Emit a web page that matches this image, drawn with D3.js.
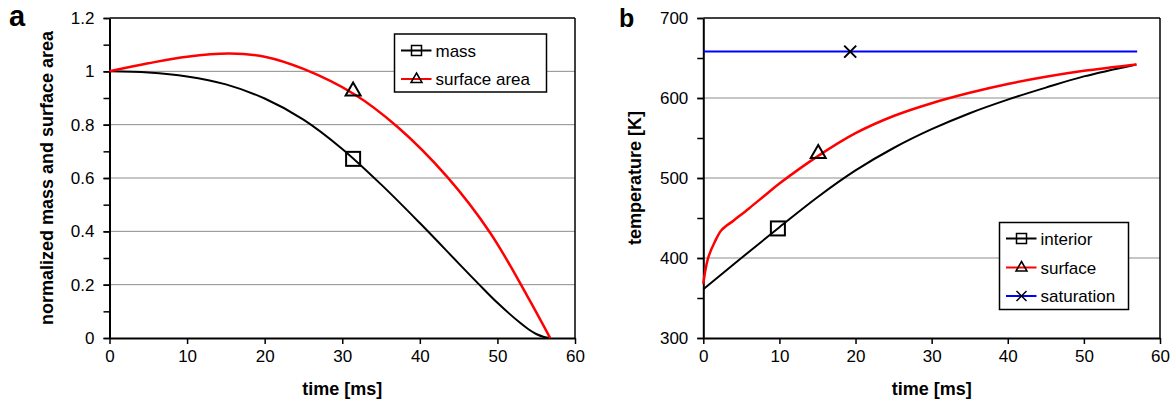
<!DOCTYPE html>
<html><head><meta charset="utf-8">
<script src="https://cdn.jsdelivr.net/npm/d3@7/dist/d3.min.js"></script>
<style>
html,body{margin:0;padding:0;background:#fff;}
svg{display:block;font-family:"Liberation Sans",Arial,sans-serif;}
</style></head>
<body><svg id="c" width="1176" height="403"></svg>
<script>
// ---- Panel a data ----
const massTime = [0, 5, 10, 15, 20, 25, 30, 35, 40, 45, 47.5, 50, 53, 54, 55, 56, 56.8];
const massValue = [1.0, 0.996, 0.981, 0.951, 0.898, 0.819, 0.709, 0.576, 0.431, 0.280, 0.205, 0.132, 0.055, 0.033, 0.015, 0.004, 0.0];
const areaTime = [0, 5, 10, 15.5, 20, 25, 31.5, 37.1, 43.5, 49.1, 53.8, 56.8];
const areaValue = [1.0, 1.03, 1.055, 1.067, 1.055, 1.009, 0.915, 0.792, 0.605, 0.393, 0.16, 0.0];
const markerTimeA = 31.4;
const yTicksA = [0, 0.2, 0.4, 0.6, 0.8, 1, 1.2];
const yTickLabelsA = ["0", "0.2", "0.4", "0.6", "0.8", "1", "1.2"];
const xTicks = [0, 10, 20, 30, 40, 50, 60];
// ---- Panel b data ----
const interiorTime = [0, 5, 10, 15, 20, 25, 30, 35, 40, 45, 50, 56.9];
const interiorTemp = [361, 400, 438.5, 476, 509.5, 537.5, 561, 581, 598, 613, 627, 642];
const surfaceTime = [0, 0.3, 0.7, 1.5, 2.4, 4, 6, 8, 10, 15, 20, 25, 30, 35, 40, 45, 50, 56.9];
const surfaceTemp = [368, 386, 402, 420, 435, 447, 462, 477.5, 493, 527, 556, 577.5, 593.5, 606.5, 617.5, 626.5, 634, 642];
const saturationTime = [0, 57];
const saturationTemp = [658, 658];
const markerTimeInterior = 9.8;
const markerTimeSurface = 15.1;
const markerTimeSaturation = 19.3;
const yTicksB = [300, 400, 500, 600, 700];

const svg = d3.select("#c");
const FS = 17, TFS = 18;

function interp(ts, vs, t) {
  for (let i = 0; i < ts.length - 1; i++) {
    if (t >= ts[i] && t <= ts[i+1]) {
      const f = (t - ts[i]) / (ts[i+1] - ts[i]);
      return vs[i] + f * (vs[i+1] - vs[i]);
    }
  }
  return vs[vs.length-1];
}

function panel(cfg) {
  const x = d3.scaleLinear().domain([0, 60]).range([cfg.x0, cfg.x1]);
  const y = d3.scaleLinear().domain(cfg.yDomain).range([338, 18]);
  const g = svg.append("g");
  g.selectAll(".grid").data(cfg.gridVals).enter().append("line")
    .attr("x1", x(0)).attr("x2", x(60))
    .attr("y1", d => y(d)).attr("y2", d => y(d))
    .attr("stroke", "#8c8c8c").attr("stroke-width", 1);
  g.append("line").attr("x1", x(0)).attr("x2", x(60)).attr("y1", y(cfg.yDomain[1])).attr("y2", y(cfg.yDomain[1]))
    .attr("stroke", "#000").attr("stroke-width", 1.5);
  g.append("line").attr("x1", x(60)).attr("x2", x(60)).attr("y1", y(cfg.yDomain[0])).attr("y2", y(cfg.yDomain[1]))
    .attr("stroke", "#000").attr("stroke-width", 1.5);
  const xa = g.append("g").attr("transform", `translate(0,${y(cfg.yDomain[0])})`)
    .call(d3.axisBottom(x).tickValues(xTicks).tickSize(6).tickPadding(6).tickSizeOuter(0));
  xa.select(".domain").attr("stroke-width", 2);
  xa.selectAll(".tick line").attr("stroke-width", 1.5);
  xa.selectAll("text").attr("font-size", FS).attr("font-family", "Liberation Sans, Arial, sans-serif").attr("fill", "#000");
  const ya = g.append("g").attr("transform", `translate(${x(0)},0)`)
    .call(d3.axisLeft(y).tickValues(cfg.minorTicks).tickSize(6).tickFormat("").tickSizeOuter(0));
  ya.select(".domain").attr("stroke-width", 2);
  ya.selectAll(".tick line").attr("stroke-width", 1.5);
  const yl = g.append("g").attr("transform", `translate(${x(0)},0)`)
    .call(d3.axisLeft(y).tickValues(cfg.yTicks).tickSize(6).tickPadding(9).tickFormat((d,i) => cfg.yLabels[i]).tickSizeOuter(0));
  yl.select(".domain").remove();
  yl.selectAll(".tick line").attr("stroke-width", 1.5);
  yl.selectAll("text").attr("font-size", FS).attr("font-family", "Liberation Sans, Arial, sans-serif").attr("fill", "#000");
  g.append("text").attr("x", (cfg.x0 + cfg.x1) / 2).attr("y", 395).attr("text-anchor", "middle")
    .attr("font-size", TFS).attr("font-weight", "bold").text("time [ms]");
  g.append("text").attr("transform", `translate(${cfg.ytX},${(18 + 338) / 2}) rotate(-90)`)
    .attr("text-anchor", "middle").attr("font-size", TFS).attr("font-weight", "bold").text(cfg.yTitle);
  g.append("text").attr("x", cfg.letterX).attr("y", cfg.letterY).attr("font-size", cfg.letterSize).attr("font-weight", "bold").text(cfg.letter);
  return {x, y, g};
}

function drawMarker(g, type, cx, cy) {
  if (type === "square") {
    g.append("rect").attr("x", cx - 7).attr("y", cy - 7).attr("width", 14).attr("height", 14)
      .attr("fill", "none").attr("stroke", "#000").attr("stroke-width", 2);
  } else if (type === "triangle") {
    g.append("path").attr("d", `M${cx},${cy - 8}L${cx + 7.5},${cy + 5}L${cx - 7.5},${cy + 5}Z`)
      .attr("fill", "none").attr("stroke", "#000").attr("stroke-width", 2);
  } else if (type === "x") {
    g.append("path").attr("d", `M${cx - 6},${cy - 6}L${cx + 6},${cy + 6}M${cx - 6},${cy + 6}L${cx + 6},${cy - 6}`)
      .attr("stroke", "#000").attr("stroke-width", 2);
  }
}

function drawSeries(p, ts, vs, color, width) {
  const line = d3.line().x(d => p.x(d[0])).y(d => p.y(d[1])).curve(d3.curveCatmullRom.alpha(0.5));
  p.g.append("path").datum(ts.map((t, i) => [t, vs[i]])).attr("d", line)
    .attr("fill", "none").attr("stroke", color).attr("stroke-width", width).attr("stroke-linejoin", "round");
}

function legend(g, x0, y0, w, h, items) {
  g.append("rect").attr("x", x0).attr("y", y0).attr("width", w).attr("height", h)
    .attr("fill", "#fff").attr("stroke", "#000").attr("stroke-width", 1.5);
  items.forEach((it) => {
    const cy = y0 + it.dy;
    g.append("line").attr("x1", x0 + 6.5).attr("x2", x0 + 37).attr("y1", cy).attr("y2", cy)
      .attr("stroke", it.color).attr("stroke-width", 2);
    const mx = x0 + 22;
    if (it.marker === "square") {
      g.append("rect").attr("x", mx - 5).attr("y", cy - 5).attr("width", 10).attr("height", 10)
        .attr("fill", "none").attr("stroke", "#000").attr("stroke-width", 1.5);
    } else if (it.marker === "triangle") {
      g.append("path").attr("d", `M${mx},${cy - 6}L${mx + 5.5},${cy + 3.5}L${mx - 5.5},${cy + 3.5}Z`)
        .attr("fill", "none").attr("stroke", "#000").attr("stroke-width", 1.5);
    } else {
      g.append("path").attr("d", `M${mx - 5},${cy - 5}L${mx + 5},${cy + 5}M${mx - 5},${cy + 5}L${mx + 5},${cy - 5}`)
        .attr("stroke", "#000").attr("stroke-width", 1.5);
    }
    g.append("text").attr("x", x0 + 41).attr("y", cy + 6).attr("font-size", FS).text(it.label);
  });
}

// Panel a
const pa = panel({x0: 109.5, x1: 575, yDomain: [0, 1.2], gridVals: [0.2, 0.4, 0.6, 0.8, 1.0],
  minorTicks: d3.range(0, 1.21, 0.1), yTicks: yTicksA, yLabels: yTickLabelsA,
  yTitle: "normalized mass and surface area", ytX: 53, letter: "a", letterX: 9, letterY: 26, letterSize: 29});
legend(pa.g, 394.5, 34, 152, 58, [
  {label: "mass", color: "#000", marker: "square", dy: 16.5},
  {label: "surface area", color: "#ff0000", marker: "triangle", dy: 45}
]);
drawSeries(pa, massTime, massValue, "#000", 2);
drawSeries(pa, areaTime, areaValue, "#ff0000", 2.5);
drawMarker(pa.g, "square", pa.x(markerTimeA), pa.y(interp(massTime, massValue, markerTimeA)));
drawMarker(pa.g, "triangle", pa.x(markerTimeA), pa.y(interp(areaTime, areaValue, markerTimeA)) - 3);

// Panel b
const pb = panel({x0: 703.3, x1: 1160, yDomain: [300, 700], gridVals: [400, 500, 600],
  minorTicks: d3.range(300, 701, 50), yTicks: yTicksB, yLabels: yTicksB.map(String),
  yTitle: "temperature [K]", ytX: 641, letter: "b", letterX: 619, letterY: 27, letterSize: 25});
drawSeries(pb, saturationTime, saturationTemp, "#0000ff", 2);
drawSeries(pb, interiorTime, interiorTemp, "#000", 2);
drawSeries(pb, surfaceTime, surfaceTemp, "#ff0000", 2.5);
drawMarker(pb.g, "square", pb.x(markerTimeInterior), pb.y(interp(interiorTime, interiorTemp, markerTimeInterior)));
drawMarker(pb.g, "triangle", pb.x(markerTimeSurface), pb.y(interp(surfaceTime, surfaceTemp, markerTimeSurface)) - 3);
drawMarker(pb.g, "x", pb.x(markerTimeSaturation), pb.y(interp(saturationTime, saturationTemp, markerTimeSaturation)));
legend(pb.g, 999.5, 222.5, 129, 87, [
  {label: "interior", color: "#000", marker: "square", dy: 16},
  {label: "surface", color: "#ff0000", marker: "triangle", dy: 45},
  {label: "saturation", color: "#0000ff", marker: "x", dy: 73.5}
]);
</script></body></html>
